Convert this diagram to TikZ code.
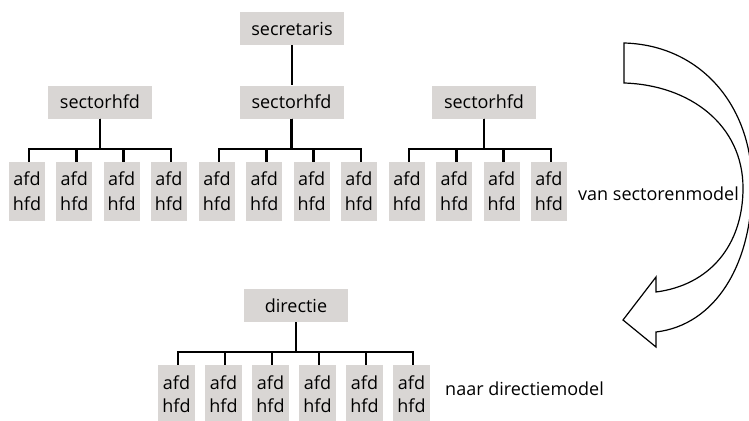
\documentclass[tikz,border=0pt]{standalone}
\usepackage{fontspec}
\setmainfont{Open Sans}
\definecolor{boxgray}{RGB}{217,214,212}
\tikzset{
  greybox/.style={fill=boxgray, inner sep=0pt, font=\fontsize{18}{25}\selectfont},
  headbox/.style={greybox, minimum width=104pt, minimum height=33pt},
  unitbox/.style={greybox, minimum width=36pt, minimum height=59pt, align=center},
  orgline/.style={line width=2.7pt, line join=miter},
  bigarrow/.style={line width=1.2pt, line join=miter, fill=white},
  modeltext/.style={font=\fontsize{18}{22}\selectfont, inner sep=0pt, anchor=base west}
}
\begin{document}
\begin{tikzpicture}[x=1pt,y=-1pt]
\useasboundingbox (0,0) rectangle (749,420);
\clip (0,0) rectangle (749,420);

% top organisation
\node[headbox] (sec) at (292,28.5) {secretaris};
\node[headbox] (s1) at (100,102) {sectorhfd};
\node[headbox] (s2) at (291.5,102) {sectorhfd};
\node[headbox] (s3) at (484,102) {sectorhfd};
\foreach \g in {1,2,3} {
  \foreach \i in {1,...,4} {
    \node[unitbox] (a\g\i) at ({27+190*(\g-1)+47.3*(\i-1)},191.5) {afd\\hfd};
  }
}
\coordinate (bar) at (0,149);
\draw[orgline] (sec.south) -- (sec.south |- s2.north);
\foreach \g in {1,2,3} {
  \foreach \i in {1,...,4} {
    \draw[orgline] (s\g.south) -- (s\g.south |- bar) -| ([xshift=2pt]a\g\i.north);
  }
}

% bottom organisation
\node[headbox] (dir) at (296,305.5) {directie};
\foreach \i in {1,...,6} {
  \node[unitbox, minimum width=37pt, font=\fontsize{18}{23}\selectfont] (b\i) at ({176.5+47*(\i-1)},394.5) {afd\\hfd};
}
\coordinate (bar2) at (0,352);
\foreach \i in {1,...,6} {
  \draw[orgline] (dir.south) -- (dir.south |- bar2) -| ([xshift=1.5pt]b\i.north);
}

% captions
\node[modeltext] (t1) at (578,200) {van sectorenmodel};
\node[modeltext] (t2) at (445,395) {naar directiemodel};

% curved hollow arrow
\draw[bigarrow] (624,43) .. controls (700,45) and (752,105) .. (752,185)
  .. controls (752,265) and (715,325) .. (656,332)
  -- (656,347) -- (623,320) -- (656,277) -- (656,292)
  .. controls (710,285) and (743,245) .. (743,188)
  .. controls (743,125) and (690,85) .. (624,83) -- cycle;
\end{tikzpicture}
\end{document}
